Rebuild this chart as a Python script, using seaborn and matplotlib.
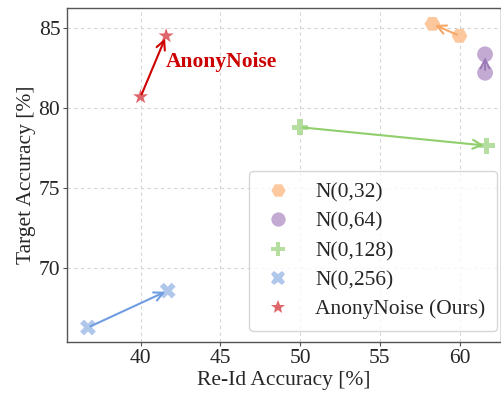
import pandas as pd
import seaborn as sns
import matplotlib.pyplot as plt

# re-id / target accuracy before and after for each noise level
methods = ['N(0,32)', 'N(0,64)', 'N(0,128)', 'N(0,256)', 'AnonyNoise (Ours)']
reid_start = [60.0, 61.6, 50.0, 36.7, 40.0]
target_start = [84.5, 82.2, 78.8, 66.3, 80.7]
reid_end = [58.3, 61.6, 61.7, 41.7, 41.6]
target_end = [85.25, 83.35, 77.65, 68.6, 84.5]

point_colors = ['#fdbf8c', '#b99bcc', '#a8d98f', '#a3bde9', '#d94a4f']
arrow_colors = ['#f7a766', '#9d7bb8', '#8fcf6c', '#709ce0', '#d00000']
marker_map = {'N(0,32)': 'H', 'N(0,64)': 'o', 'N(0,128)': 'P',
              'N(0,256)': 'X', 'AnonyNoise (Ours)': '*'}

rows = []
for m, x0, y0, x1, y1 in zip(methods, reid_start, target_start, reid_end, target_end):
    rows.append({'method': m, 'reid': x0, 'target': y0})
    rows.append({'method': m, 'reid': x1, 'target': y1})
df = pd.DataFrame(rows)

sns.set_style('whitegrid', {'grid.linestyle': (0, (3, 3)), 'grid.color': '#d5d5d5'})
plt.rcParams['font.family'] = ['Liberation Serif', 'DejaVu Serif']

fig = plt.figure(figsize=(5.02, 3.93), dpi=100)
ax = fig.add_axes([0.134, 0.130, 0.864, 0.850])

sns.scatterplot(data=df, x='reid', y='target', hue='method', style='method',
                hue_order=methods, style_order=methods,
                palette=dict(zip(methods, point_colors)), markers=marker_map,
                s=130, linewidth=0, alpha=0.85, ax=ax, zorder=3)

for x0, y0, x1, y1, c in zip(reid_start, target_start, reid_end, target_end, arrow_colors):
    ax.annotate('', xy=(x1, y1), xytext=(x0, y0),
                arrowprops=dict(arrowstyle='->', color=c, lw=1.5,
                                mutation_scale=16, shrinkA=2, shrinkB=2),
                zorder=4)

ax.text(41.6, 82.9, 'AnonyNoise', color='#cc0000', fontsize=15.5,
        fontweight='bold', va='center', ha='left')

ax.set_xlim(35.4, 62.6)
ax.set_ylim(65.4, 86.25)
ax.set_xticks([40, 45, 50, 55, 60])
ax.set_yticks([70, 75, 80, 85])
ax.tick_params(labelsize=15.5, length=3, left=True, bottom=True, color='#555555', pad=2)
ax.set_xlabel('Re-Id Accuracy [%]', fontsize=15.5, labelpad=2)
ax.set_ylabel('Target Accuracy [%]', fontsize=15.5, labelpad=2)
for sp in ax.spines.values():
    sp.set_color('#555555')
    sp.set_linewidth(1.0)

leg = ax.legend(loc='lower right', fontsize=15.5, labelspacing=0.42,
                handletextpad=0.9, handlelength=1.6, borderpad=0.55,
                markerscale=0.9, bbox_to_anchor=(1.016, 0.0))
leg.get_frame().set_alpha(0.8)

fig.savefig('out.png', dpi=100)
